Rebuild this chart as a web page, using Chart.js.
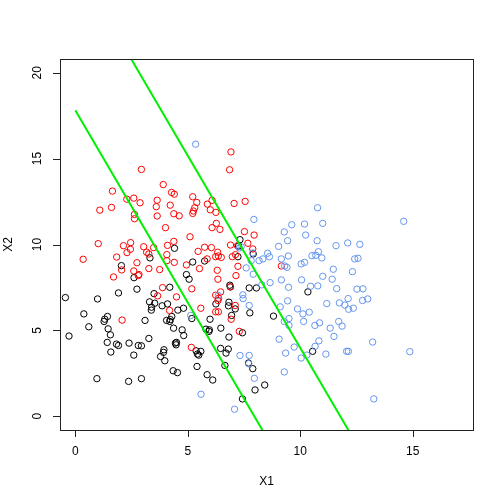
<!DOCTYPE html>
<html>
<head>
<meta charset="utf-8">
<script src="https://cdn.jsdelivr.net/npm/chart.js@4.4.0/dist/chart.umd.min.js"></script>
<style>
  html, body { margin: 0; padding: 0; background: #fff; }
  #wrap { width: 504px; height: 504px; }
</style>
</head>
<body>
<div id="wrap"><canvas id="plot" width="504" height="504"></canvas></div>
<script>
// class 1 (black)
const blackX = [-0.44,-0.28,0.38,0.60,0.96,0.99,1.28,1.31,1.43,1.42,1.46,1.56,1.58,1.83,1.92,1.92,2.05,2.37,2.39,2.60,
  2.74,2.61,2.80,2.94,2.94,3.10,3.27,3.32,3.30,3.38,3.39,3.50,3.53,3.86,3.79,3.92,3.94,3.98,4.06,4.10,
  4.20,4.20,4.22,4.29,4.35,4.37,4.41,4.45,4.48,4.50,4.54,4.56,4.81,4.75,4.82,4.94,5.06,5.22,5.18,5.37,
  5.41,5.43,5.49,5.58,5.75,5.81,5.86,5.94,5.96,5.99,6.11,6.25,6.46,6.47,6.65,6.70,6.80,6.81,6.83,6.83,
  6.87,6.89,6.95,7.11,7.23,7.32,7.26,7.43,7.43,7.73,7.76,7.89,7.70,7.99,8.05,8.42,8.81,10.34,10.55,7.91];
const blackY = [6.91,4.67,5.96,5.21,2.19,6.83,5.52,5.65,5.81,4.30,5.09,4.74,3.74,4.20,4.12,7.18,8.77,2.03,4.26,3.56,
  7.40,8.07,4.12,4.10,2.19,5.58,4.53,9.22,6.66,6.18,6.35,7.14,6.58,6.43,3.48,3.72,3.87,3.23,5.58,6.54,
  7.51,5.52,5.63,5.81,2.65,5.13,9.78,4.26,4.16,4.30,2.54,6.18,6.29,5.03,4.70,8.25,7.98,8.98,5.69,3.81,
  2.90,3.62,3.56,3.78,9.04,5.07,2.42,4.94,5.03,5.65,2.11,6.54,3.95,5.13,2.96,3.68,3.91,6.43,6.64,4.61,
  7.63,7.53,5.87,6.25,9.29,10.28,9.91,4.86,1.01,7.47,6.02,2.77,3.10,1.53,7.47,1.82,5.83,7.24,3.78,9.45];

// class 2 (red)
const redX = [6.92,6.86,2.94,3.91,1.65,4.28,4.40,2.29,2.60,2.88,3.64,3.60,3.64,4.22,4.38,4.62,5.22,5.40,5.31,5.25,
  5.22,6.08,5.87,6.00,6.25,7.06,7.55,1.09,1.61,2.63,2.63,4.01,6.27,6.08,6.43,7.52,7.95,5.10,1.02,2.14,
  2.46,2.30,2.45,3.04,3.17,3.27,3.48,4.10,4.38,4.07,4.07,4.40,0.35,1.84,2.06,1.70,2.74,2.60,2.80,2.83,
  3.27,3.75,4.94,5.52,5.46,5.75,6.05,5.86,6.24,6.36,6.49,6.33,6.90,6.98,7.12,7.21,7.67,7.23,7.14,6.31,
  6.34,6.90,3.88,3.66,4.50,5.18,6.46,6.24,6.37,6.34,7.11,5.58,4.19,6.24,6.36,6.93,2.08,7.29,5.16,9.16,7.89];
const redY = [15.39,14.35,14.37,13.49,13.11,13.03,12.93,12.64,12.70,12.43,12.58,12.20,11.66,12.29,11.79,11.67,12.78,12.45,12.14,11.95,
  11.81,12.57,12.35,12.02,11.87,12.39,12.51,12.00,12.16,11.75,11.50,10.98,11.23,10.98,10.88,10.75,10.55,10.45,10.05,9.93,
  10.11,9.53,9.72,9.87,9.55,9.45,9.82,9.95,10.18,9.41,9.06,8.96,9.14,9.27,8.52,8.11,8.94,8.46,8.19,8.25,
  8.60,8.54,8.81,8.60,9.60,9.84,9.82,9.16,9.29,9.33,9.25,9.55,9.97,9.29,9.41,9.93,10.07,8.73,8.19,8.50,
  7.98,7.53,7.49,7.01,6.95,7.42,7.24,7.05,6.87,6.74,6.45,6.29,6.16,6.08,6.08,5.65,5.60,4.94,4.01,8.75,9.74];

// class 3 (blue)
const blueX = [5.35,7.94,10.77,14.60,9.62,10.19,11.00,9.29,10.24,9.44,10.75,9.04,11.59,12.11,12.65,7.37,7.29,7.89,7.82,7.60,
  7.91,8.17,8.34,8.55,8.63,9.16,9.31,9.41,9.47,10.04,10.19,10.52,10.69,10.81,10.96,11.47,12.32,12.42,12.57,9.16,
  10.06,11.00,11.42,9.48,10.46,10.78,11.62,12.52,12.79,8.29,8.66,7.45,7.46,7.73,6.36,9.44,9.11,9.88,11.18,11.74,
  11.98,12.13,12.15,12.36,12.77,13.00,5.13,9.50,9.29,9.50,10.15,10.40,10.12,10.65,10.86,11.33,11.71,11.86,11.50,10.83,
  10.66,9.06,9.73,9.35,10.04,10.29,11.14,12.06,12.14,13.22,14.87,13.27,9.29,7.32,7.73,7.71,7.96,5.59,7.08];
const blueY = [15.84,11.46,12.14,11.35,11.15,11.19,11.23,10.73,10.55,10.22,10.22,9.89,9.93,10.09,10.01,9.87,9.80,9.51,9.06,8.64,
  8.27,9.06,9.16,9.49,9.29,9.16,8.75,8.67,9.33,8.87,8.96,9.35,9.37,9.58,9.22,8.56,8.42,9.16,9.20,7.94,
  7.94,8.15,7.98,7.51,7.57,7.59,7.43,7.40,7.42,7.65,7.78,7.07,6.85,6.45,7.03,6.72,6.37,6.25,6.56,6.60,
  6.47,6.85,6.23,6.29,6.74,6.83,5.87,5.69,5.52,5.29,5.52,6.06,5.96,5.29,5.44,5.13,5.52,5.25,4.65,4.39,
  4.07,4.49,4.03,3.68,3.39,3.56,3.62,3.78,3.78,4.32,3.76,1.01,2.58,3.54,3.54,3.06,2.21,1.28,0.41];

// the two parallel green lines
const line1X = [0, 9];
const line1Y = [17.81, -2.33];
const line2X = [0, 13];
const line2Y = [26.36, -2.73];

const xTicks = [0, 5, 10, 15];
const yTicks = [0, 5, 10, 15, 20];

function pts(xs, ys) {
  return xs.map((x, i) => ({ x: x, y: ys[i] }));
}

const FONT = '12px "Liberation Sans", Arial, sans-serif';

// R-style box, ticks and axis titles
const baseAxes = {
  id: 'baseAxes',
  afterDraw(chart) {
    const ctx = chart.ctx;
    const a = chart.chartArea;
    const xs = chart.scales.x, ys = chart.scales.y;
    ctx.save();
    ctx.strokeStyle = '#222';
    ctx.lineWidth = 1;
    ctx.strokeRect(Math.round(a.left) + 0.5, Math.round(a.top) + 0.5,
      Math.round(a.right - a.left), Math.round(a.bottom - a.top));

    ctx.fillStyle = '#000';
    ctx.font = FONT;
    ctx.textAlign = 'center';
    ctx.textBaseline = 'middle';

    // x axis
    ctx.beginPath();
    xTicks.forEach(v => {
      const px = Math.round(xs.getPixelForValue(v)) + 0.5;
      ctx.moveTo(px, a.bottom);
      ctx.lineTo(px, a.bottom + 7);
    });
    ctx.stroke();
    xTicks.forEach(v => ctx.fillText(String(v), xs.getPixelForValue(v), a.bottom + 22));

    // y axis
    ctx.beginPath();
    yTicks.forEach(v => {
      const py = Math.round(ys.getPixelForValue(v)) + 0.5;
      ctx.moveTo(a.left, py);
      ctx.lineTo(a.left - 7, py);
    });
    ctx.stroke();
    yTicks.forEach(v => {
      ctx.save();
      ctx.translate(a.left - 22, ys.getPixelForValue(v));
      ctx.rotate(-Math.PI / 2);
      ctx.fillText(String(v), 0, 0);
      ctx.restore();
    });

    // titles
    ctx.fillText('X1', (a.left + a.right) / 2, a.bottom + 52);
    ctx.save();
    ctx.translate(a.left - 51, (a.top + a.bottom) / 2);
    ctx.rotate(-Math.PI / 2);
    ctx.fillText('X2', 0, 0);
    ctx.restore();
    ctx.restore();
  }
};

function pointSet(data, color) {
  return {
    data: data,
    showLine: false,
    pointStyle: 'circle',
    pointRadius: 3.2,
    pointBorderWidth: 1,
    pointBackgroundColor: 'rgba(0,0,0,0)',
    pointBorderColor: color
  };
}

function lineSet(data) {
  return {
    data: data,
    showLine: true,
    pointRadius: 0,
    borderColor: '#00f000',
    borderWidth: 2,
    fill: false
  };
}

const ctx = document.getElementById('plot').getContext('2d');
new Chart(ctx, {
  type: 'scatter',
  data: {
    datasets: [
      lineSet(pts(line1X, line1Y)),
      lineSet(pts(line2X, line2Y)),
      pointSet(pts(blueX, blueY), '#6495ed'),
      pointSet(pts(redX, redY), '#ff0000'),
      pointSet(pts(blackX, blackY), '#000000')
    ]
  },
  options: {
    responsive: false,
    animation: false,
    layout: { padding: { left: 60, top: 59, right: 31, bottom: 74 } },
    plugins: { legend: { display: false }, tooltip: { enabled: false } },
    scales: {
      x: { type: 'linear', min: -0.68, max: 17.68, display: false },
      y: { type: 'linear', min: -0.8, max: 20.8, display: false }
    }
  },
  plugins: [baseAxes]
});
</script>
</body>
</html>
